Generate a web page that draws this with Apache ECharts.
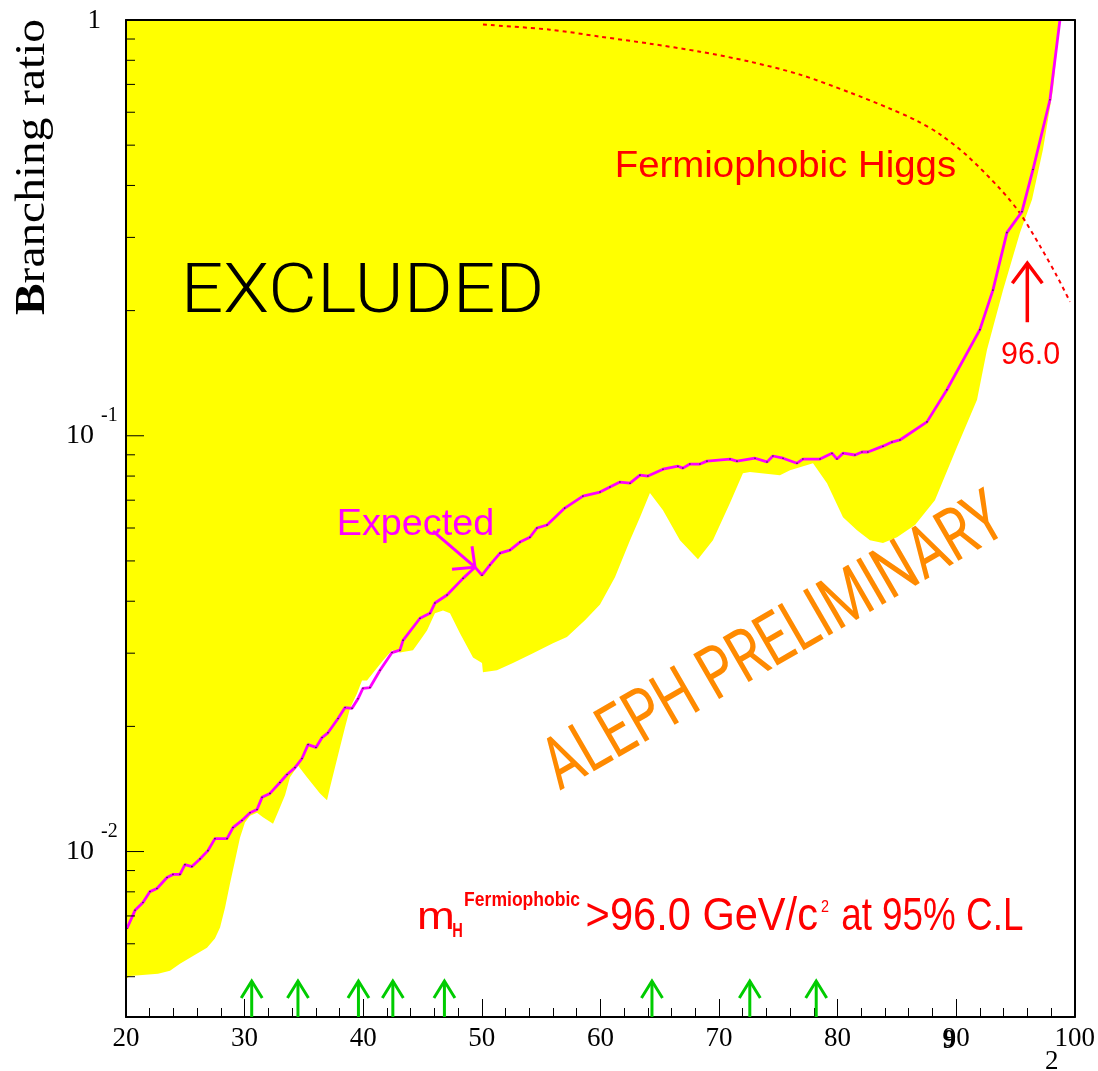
<!DOCTYPE html>
<html><head><meta charset="utf-8">
<script src="https://cdn.jsdelivr.net/npm/echarts@6/dist/echarts.min.js"></script>
<style>html,body{margin:0;padding:0;background:#fff}#c{width:1098px;height:1071px}</style>
</head><body><div id="c"></div>
<script>
// ---- data ----
const obsMass = [20.0,20.34,22.7,23.71,24.55,25.65,26.83,27.5,27.93,28.35,28.77,29.19,29.61,30.03,30.46,31.05,31.55,32.4,32.98,33.41,33.83,34.5,35.26,36.36,36.95,37.2,38.04,38.47,38.89,39.48,39.9,40.32,41.67,42.43,43.1,44.2,44.79,45.38,46.05,46.73,47.32,48.16,49.26,50.02,50.1,51.28,52.63,54.32,56.0,57.18,58.7,59.97,61.23,62.5,63.34,64.18,65.28,66.71,68.23,69.49,70.93,72.02,72.61,75.14,75.99,77.93,79.11,80.46,81.64,82.73,83.83,85.01,86.53,88.21,90.07,91.76,92.6,93.95,95.38,96.4,97.32,98.16,98.75];
const obsBR = [0.00494,0.00502,0.00508,0.00517,0.00537,0.00561,0.00587,0.00618,0.00657,0.00733,0.00838,0.0095,0.0108,0.01175,0.0122,0.0124,0.0121,0.01166,0.01277,0.01365,0.0151,0.0161,0.0151,0.0138,0.01328,0.01426,0.0178,0.0199,0.0221,0.024,0.0258,0.0258,0.0288,0.0305,0.0301,0.0305,0.0322,0.034,0.0374,0.038,0.0374,0.0335,0.0293,0.0284,0.027,0.0273,0.0284,0.03,0.0317,0.0328,0.036,0.0393,0.0457,0.0561,0.0637,0.0728,0.0662,0.0561,0.0505,0.0561,0.0689,0.0813,0.0818,0.0804,0.0826,0.0859,0.0769,0.0637,0.0593,0.0561,0.0552,0.057,0.061,0.07,0.094,0.122,0.161,0.224,0.308,0.37,0.488,0.68,1.0];

const expMass = [20.08,20.76,21.43,22.02,22.61,23.46,23.96,24.55,24.97,25.56,26.24,26.91,27.5,28.52,29.02,29.78,30.46,31.05,31.47,32.14,32.98,33.58,34.25,34.84,35.35,36.02,36.53,37.03,37.88,38.47,39.06,39.56,39.98,40.57,41.42,42.43,43.1,43.36,44.79,45.63,46.05,47.07,48.42,49.43,50.02,50.69,51.54,52.38,53.22,54.06,54.65,55.5,57.0,58.53,59.97,60.81,61.65,62.5,63.34,64.01,65.28,66.54,66.96,67.55,68.4,68.99,70.93,71.52,73.04,74.05,74.55,75.4,76.58,77.08,78.52,79.53,79.95,80.46,81.47,82.06,82.56,83.83,84.59,85.26,87.54,89.22,92.0,93.1,94.28,95.55,96.48,97.91,98.75];
const expBR = [0.00653,0.00722,0.00754,0.00801,0.00815,0.00866,0.00881,0.00881,0.0093,0.0092,0.0096,0.01005,0.01074,0.01074,0.01142,0.01188,0.0124,0.01262,0.0135,0.0138,0.01466,0.01532,0.01592,0.01674,0.01808,0.0178,0.0188,0.0193,0.0209,0.0222,0.0221,0.0233,0.0247,0.0248,0.0273,0.0301,0.0305,0.0322,0.0364,0.0374,0.0396,0.0414,0.0454,0.0483,0.0462,0.0489,0.0522,0.0531,0.0555,0.057,0.06,0.061,0.067,0.0716,0.0732,0.0753,0.0774,0.0769,0.0804,0.08,0.0831,0.0845,0.0836,0.0855,0.0855,0.0869,0.0879,0.0869,0.0883,0.0865,0.0894,0.0883,0.0859,0.0879,0.0879,0.0908,0.0879,0.0908,0.0899,0.0914,0.0914,0.0944,0.0966,0.0977,0.108,0.129,0.18,0.224,0.308,0.346,0.437,0.643,1.0];

const fpMass = [50.1,55.75,59.97,64.18,68.4,72.61,76.83,81.05,84.42,86.7,88.63,90.91,93.69,95.38,97.07,98.5,99.6];
const fpBR = [0.975,0.948,0.912,0.877,0.839,0.794,0.739,0.669,0.612,0.572,0.531,0.472,0.393,0.343,0.286,0.242,0.21];

const candidateMass = [30.6,34.5,39.6,42.5,46.85,64.35,72.6,78.2];
const massLimit = 96.0;
const limitLabel = '96.0';

const yMajorTicks = [0.01, 0.1, 1];
const yMajorLabels = [['10','-2'],['10','-1'],['1','']];
const yMinorTicks = [0.005,0.006,0.007,0.008,0.009,0.02,0.03,0.04,0.05,0.06,0.07,0.08,0.09,0.2,0.3,0.4,0.5,0.6,0.7,0.8,0.9];

// ---- helpers ----
const pairs = (a, b) => a.map((v, i) => [v, b[i]]);
const mctx = document.createElement('canvas').getContext('2d');
function metrics(text, font) {
  mctx.font = font; mctx.textBaseline = 'middle'; mctx.textAlign = 'left';
  const m = mctx.measureText(text);
  return {adv: m.width, l: -m.actualBoundingBoxLeft, r: m.actualBoundingBoxRight,
          t: -m.actualBoundingBoxAscent, b: m.actualBoundingBoxDescent};
}
function txtStyle(text, font, fill, align) {
  align = align || 'left';
  return {text, font, fill, align, verticalAlign: 'middle', textAlign: align, textVerticalAlign: 'middle'};
}
function fitBox(text, font, fill, L, T, R, B) {
  const m = metrics(text, font);
  const sx = (R - L) / (m.r - m.l), sy = (B - T) / (m.b - m.t);
  return {type: 'text', silent: true, z: 100, x: L - m.l * sx, y: T - m.t * sy, scaleX: sx, scaleY: sy,
          style: txtStyle(text, font, fill)};
}
function fitPos(text, font, fill, L, T) {
  const m = metrics(text, font);
  return {type: 'text', silent: true, z: 100, x: L - m.l, y: T - m.t, style: txtStyle(text, font, fill)};
}
function rot(vx, vy, r) { return [vx * Math.cos(r) + vy * Math.sin(r), -vx * Math.sin(r) + vy * Math.cos(r)]; }
// pieces laid out along a rotated baseline, fitted to an ink box (w along text, h across) centred on (cx, cy)
function fitRotRun(pieces, cx, cy, w, h, r, fill) {
  let adv = 0, l = Infinity, rr = -Infinity, t = Infinity, b = -Infinity;
  const offs = pieces.map(p => { const m = metrics(p.text, p.font); const off = adv;
    l = Math.min(l, off + m.l); rr = Math.max(rr, off + m.r); t = Math.min(t, m.t); b = Math.max(b, m.b);
    adv += m.adv; return off; });
  const sx = w / (rr - l), sy = h / (b - t);
  const c = rot((l + rr) / 2 * sx, (t + b) / 2 * sy, r);
  const ox = cx - c[0], oy = cy - c[1];
  return pieces.map((p, i) => { const d = rot(offs[i] * sx, 0, r);
    return {type: 'text', silent: true, z: 100, x: ox + d[0], y: oy + d[1], rotation: r, scaleX: sx, scaleY: sy,
            style: txtStyle(p.text, p.font, fill)}; });
}

const SANS = "'Liberation Sans'";
const ROBOTO = "Roboto, 'Liberation Sans'";
const SERIF = "'Liberation Serif'";
const RED = '#ff0000', MAG = '#ff00ff', GREEN = '#00cc00', ORANGE = '#ff8a00';

const expArrowIdx = expMass.indexOf(49.43);

const graphics = [].concat(
  fitRotRun([{text: 'B', font: 'bold 46px ' + SERIF}, {text: 'ranching ratio', font: 'normal 46px ' + SERIF}],
            33, 167.5, 295, 40, Math.PI / 2, '#000'),
  [
    fitBox('EXCLUDED', '300 72px ' + ROBOTO, '#000', 187, 262, 540, 313),
    fitBox('Fermiophobic Higgs', 'normal 34px ' + SANS, RED, 617, 151, 955, 185),
    fitBox('Expected', 'normal 34px ' + SANS, MAG, 339, 509, 492, 543),
    fitBox(limitLabel, 'normal 29px ' + SANS, RED, 1002, 343, 1059, 364),
    fitBox('m', 'normal 44px ' + SANS, RED, 419, 908, 452, 929),
    fitBox('H', 'bold 20px ' + SANS, RED, 453, 922.5, 462.5, 937),
    fitBox('Fermiophobic', 'bold 20px ' + SANS, RED, 465, 890, 580, 910),
    fitBox('>96.0 GeV/c', 'normal 44px ' + SANS, RED, 587.5, 897, 817, 930),
    fitBox('2', 'normal 18px ' + SANS, RED, 821, 899.5, 829, 912),
    fitBox('at 95% C.L', 'normal 44px ' + SANS, RED, 842, 897, 1023, 930),
    fitPos('9', 'bold 27px ' + SERIF, '#000', 942.5, 1030),
    fitPos('2', 'normal 27px ' + SERIF, '#000', 1046, 1051)
  ],
  fitRotRun([{text: 'ALEPH PRELIMINARY', font: 'normal 60px ' + ROBOTO}], 772, 639, 520, 51, 30 * Math.PI / 180, ORANGE)
);

const chart = echarts.init(document.getElementById('c'), null, {renderer: 'canvas'});
const axisLineStyle = {color: '#000', width: 2};
chart.setOption({
  animation: false,
  backgroundColor: '#fff',
  grid: {left: 126, right: 23, top: 20, bottom: 54, containLabel: false},
  xAxis: [
    {type: 'value', min: 20, max: 100, interval: 10, z: 10,
     axisLine: {show: true, onZero: false, lineStyle: axisLineStyle},
     axisTick: {show: true, inside: true, length: 18, lineStyle: {color: '#000', width: 1}},
     minorTick: {show: true, splitNumber: 5, length: 9, lineStyle: {color: '#000', width: 1}},
     splitLine: {show: false}, minorSplitLine: {show: false},
     axisLabel: {fontFamily: SERIF, fontSize: 27, color: '#000', margin: 8}},
    {type: 'value', min: 20, max: 100, position: 'top', z: 10,
     axisLine: {show: true, onZero: false, lineStyle: axisLineStyle},
     axisTick: {show: false}, axisLabel: {show: false}, splitLine: {show: false}}
  ],
  yAxis: [
    {type: 'log', logBase: 10, min: 0.004, max: 1, z: 10,
     axisLine: {show: true, onZero: false, lineStyle: axisLineStyle},
     axisTick: {show: false}, axisLabel: {show: false}, splitLine: {show: false}},
    {type: 'log', logBase: 10, min: 0.004, max: 1, position: 'right', z: 10,
     axisLine: {show: true, onZero: false, lineStyle: axisLineStyle},
     axisTick: {show: false}, axisLabel: {show: false}, splitLine: {show: false}}
  ],
  series: [
    {type: 'line', name: 'Observed', data: pairs(obsMass, obsBR), symbol: 'none', z: 1,
     lineStyle: {width: 0}, areaStyle: {origin: 'end', color: '#ffff00', opacity: 1}},
    {type: 'line', name: 'Fermiophobic BR', data: pairs(fpMass, fpBR), symbol: 'none', smooth: 0.3, z: 3,
     lineStyle: {color: RED, width: 2, type: [4, 4]}},
    {type: 'line', name: 'Expected', data: pairs(expMass, expBR), z: 4,
     symbol: 'circle', symbolSize: 1.6, showSymbol: true, itemStyle: {color: '#333'},
     lineStyle: {color: MAG, width: 2.8}},
    // y-axis ticks and labels
    {type: 'custom', z: 20, clip: false, silent: true,
     dimensions: ['v', 'major', 'idx'],
     data: yMinorTicks.map(v => [v, 0, -1]).concat(yMajorTicks.map((v, i) => [v, 1, i])),
     renderItem: (params, api) => {
       const v = api.value(0), major = api.value(1), idx = api.value(2);
       const p = api.coord([20, v]);
       const ch = [{type: 'line', shape: {x1: p[0], y1: p[1], x2: p[0] + (major ? 18 : 9), y2: p[1]},
                    style: {stroke: '#000', lineWidth: 1}}];
       const lab = major ? yMajorLabels[idx] : null;
       if (lab) {
         if (lab[1]) {
           ch.push({type: 'text', x: 94, y: p[1], style: txtStyle(lab[0], '28px ' + SERIF, '#000', 'right')});
           ch.push({type: 'text', x: 101, y: p[1] - 20, style: txtStyle(lab[1], '20px ' + SERIF, '#000', 'left')});
         } else {
           ch.push({type: 'text', x: 101, y: p[1] + 1, style: txtStyle(lab[0], '27px ' + SERIF, '#000', 'right')});
         }
       }
       return {type: 'group', children: ch};
     }},
    // candidate arrows
    {type: 'custom', z: 15, clip: false, silent: true, data: candidateMass.map(m => [m, 0.004]),
     renderItem: (params, api) => {
       const p = api.coord([api.value(0), api.value(1)]);
       const tip = p[1] - 36;
       const st = {stroke: GREEN, lineWidth: 3, fill: null};
       return {type: 'group', children: [
         {type: 'line', shape: {x1: p[0], y1: p[1], x2: p[0], y2: tip}, style: st},
         {type: 'polyline', shape: {points: [[p[0] - 10.5, tip + 17], [p[0], tip], [p[0] + 10.5, tip + 17]]}, style: st}
       ]};
     }},
    // limit arrow (red) and "Expected" pointer
    {type: 'custom', z: 16, clip: false, silent: true,
     dimensions: ['m', 'br', 'kind'],
     data: [[massLimit, 0.26, 0], [expMass[expArrowIdx], expBR[expArrowIdx], 1]],
     renderItem: (params, api) => {
       const p = api.coord([api.value(0), api.value(1)]);
       if (api.value(2) === 0) {
         const st = {stroke: RED, lineWidth: 3.5, fill: null};
         return {type: 'group', children: [
           {type: 'line', shape: {x1: p[0], y1: p[1] + 59, x2: p[0], y2: p[1]}, style: st},
           {type: 'polyline', shape: {points: [[p[0] - 15, p[1] + 20], [p[0], p[1]], [p[0] + 15, p[1] + 20]]}, style: st}
         ]};
       }
       const st = {stroke: MAG, lineWidth: 3, fill: null};
       return {type: 'group', children: [
         {type: 'line', shape: {x1: p[0] - 42, y1: p[1] - 36, x2: p[0], y2: p[1]}, style: st},
         {type: 'polyline', shape: {points: [[p[0] - 23, p[1] + 2], [p[0], p[1]], [p[0] - 3, p[1] - 21]]}, style: st}
       ]};
     }}
  ],
  graphic: {elements: graphics}
});
</script>
</body></html>
